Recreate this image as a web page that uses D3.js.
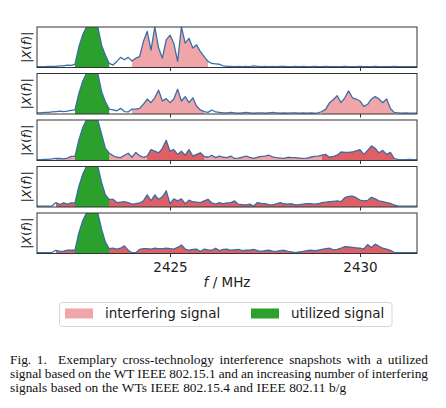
<!DOCTYPE html>
<html>
<head>
<meta charset="utf-8">
<script src="https://cdn.jsdelivr.net/npm/d3@7"></script>
<style>
body{margin:0;background:#fff;}
svg{display:block;}
</style>
</head>
<body>
<svg id="svg" width="446" height="408"></svg>
<script>
// spectrum samples, 0.1 MHz apart starting at 2421.5 MHz, |X(f)| in % of panel height
var fStart = 2421.5, fStep = 0.1;
var xTicks = [2425, 2430];
var legendNames = ['interfering signal', 'utilized signal'];

var snap1 = [2,2,2,3,3,3,4,4,6,5,
    8,50,80,100,125,130,100,55,30,10,
    6,15,25,19,25,16,23,27,64,89,
    43,100,48,23,68,80,60,15,100,60,
    72,48,56,39,27,15,10,9,8,4,
    3,3,2,3,2,3,2,4,3,2,
    3,2,3,2,3,3,2,2,3,2,
    3,2,2,3,2,2,3,2,2,2,
    2,3,2,2,2,3,2,2,2,3,
    2,2,2,2,3,2,2,2,2,2,
    2];
var snap2 = [3,3,4,4,5,6,7,6,7,9,
    10,50,80,100,125,130,100,55,30,12,
    10,8,14,6,5,12,12,14,24,37,
    28,40,59,32,38,28,37,61,32,43,
    28,40,19,10,6,4,10,5,4,3,
    3,4,3,2,3,4,3,2,3,3,
    2,3,4,3,2,3,2,3,3,2,
    3,2,3,2,3,6,12,28,36,45,
    28,40,57,40,37,32,19,24,37,43,
    37,28,37,14,4,3,2,3,2,2,
    2];
var snap3 = [2,2,3,3,4,5,5,4,6,10,
    10,50,80,100,125,130,100,65,30,18,
    12,8,7,13,18,8,20,12,8,11,
    27,23,19,30,50,23,27,15,23,13,
    27,11,15,19,10,8,13,7,11,8,
    7,11,5,6,8,11,8,5,8,10,
    11,13,9,7,6,5,8,7,7,6,
    5,6,8,10,11,13,15,8,10,13,
    21,20,20,21,24,27,15,25,36,30,
    19,25,15,20,5,2,2,2,3,2,
    2];
var snap4 = [2,2,2,2,3,11,6,10,7,10,
    10,50,80,100,125,130,100,60,30,19,
    19,11,12,13,11,7,8,10,15,30,
    15,30,19,25,40,8,20,15,20,8,
    17,13,12,11,15,19,10,7,11,8,
    10,11,15,7,6,5,7,2,11,9,
    8,6,5,8,11,8,7,8,5,6,
    7,8,8,7,8,11,12,13,14,15,
    13,23,26,27,23,17,15,16,24,20,
    15,13,11,9,5,2,2,2,2,2,
    2];
var snap5 = [2,2,2,2,3,8,5,6,8,8,
    8,50,80,100,125,130,100,60,28,12,
    13,11,13,19,8,2,2,10,12,12,
    11,13,12,12,13,12,11,15,21,11,
    8,10,11,5,11,9,8,13,7,10,
    11,8,9,10,7,8,8,10,7,5,
    7,8,6,5,7,8,5,4,2,4,
    5,7,8,7,8,10,12,13,9,10,
    13,17,16,15,14,13,11,22,15,23,
    18,13,11,8,3,2,2,2,2,2,
    2];
var snaps = [snap1, snap2, snap3, snap4, snap5];

// frequency bands (MHz) of the utilized signal and of the interferers per snapshot
var utilBand = [2422.5, 2423.4];
var interfBands = [
    [[2424.0, 2426.0]],
    [[2424.0, 2425.9], [2429.0, 2430.9]],
    [[2422.0, 2431.0]],
    [[2422.0, 2431.0]],
    [[2422.0, 2431.0]]
];
var overlapBands = [
    [],
    [],
    [[2424.4, 2425.9], [2429.0, 2430.9]],
    [[2422.0, 2431.0]],
    [[2422.0, 2431.0]]
];

var captionLines = [
    'Fig. 1.  Exemplary cross-technology interference snapshots with a utilized',
    'signal based on the WT IEEE 802.15.1 and an increasing number of interfering',
    'signals based on the WTs IEEE 802.15.4 and IEEE 802.11 b/g'
];

var cPink = '#f0a6a8', cDark = '#df5f65', cGreen = '#2ca02c', cLine = '#3a6ea5';
var freq = d3.range(snap1.length).map(function(i){ return fStart + i*fStep; });
var x = d3.scaleLinear().domain([2421.5, 2431.5]).range([37, 417]);

function inBand(f, bands){
    return bands.some(function(b){ return f >= b[0]-1e-6 && f <= b[1]+1e-6; });
}

function genPanel(s, k){
    var top = 27 + k*46.5, h = 40.5;
    var y = d3.scaleLinear().domain([0, 100]).range([top+h, top]);
    var data = snaps[k];

    s.append('clipPath').attr('id', 'clip'+k)
        .append('rect').attr('x', x.range()[0]).attr('y', top)
        .attr('width', x.range()[1]-x.range()[0]).attr('height', h);
    var g = s.append('g').attr('clip-path', 'url(#clip'+k+')');

    function area(bands){
        return d3.area()
            .defined(function(d, i){ return inBand(freq[i], bands); })
            .x(function(d, i){ return x(freq[i]); })
            .y0(y(0))
            .y1(function(d){ return y(d); });
    }
    g.append('path').attr('d', area(interfBands[k])(data)).attr('fill', cPink);
    if(overlapBands[k].length)
        g.append('path').attr('d', area(overlapBands[k])(data)).attr('fill', cDark);
    g.append('path').attr('d', area([utilBand])(data)).attr('fill', cGreen);
    g.append('path')
        .attr('d', d3.line().x(function(d, i){ return x(freq[i]); }).y(function(d){ return y(d); })(data))
        .attr('fill', 'none')
        .attr('stroke', cLine)
        .attr('stroke-width', 1.3)
        .attr('stroke-linejoin', 'round');

    var ax = d3.axisBottom(x).tickValues(xTicks).tickSize(3.5).tickPadding(5)
        .tickFormat(k == snaps.length-1 ? d3.format('d') : '');
    var axg = s.append('g').attr('transform', 'translate(0,'+(top+h)+')').call(ax);
    axg.select('.domain').remove();
    axg.selectAll('line').attr('stroke', '#333');
    axg.selectAll('text').attr('font-size', 13.5).attr('font-family', 'DejaVu Sans').attr('fill', '#222');

    s.append('rect')
        .attr('x', x.range()[0]).attr('y', top)
        .attr('width', x.range()[1]-x.range()[0]).attr('height', h)
        .attr('fill', 'none').attr('stroke', '#333').attr('stroke-width', 1);

    var lab = s.append('text')
        .attr('transform', 'translate(31,'+(top+h/2)+') rotate(-90)')
        .attr('text-anchor', 'middle')
        .attr('font-family', 'DejaVu Sans')
        .attr('font-size', 12.5)
        .attr('fill', '#222');
    lab.append('tspan').text('|');
    lab.append('tspan').attr('font-style', 'italic').text('X');
    lab.append('tspan').text('(');
    lab.append('tspan').attr('font-style', 'italic').text('f');
    lab.append('tspan').text(')|');
}

function genLegend(s){
    s.append('text')
        .attr('x', 227).attr('y', 287)
        .attr('text-anchor', 'middle')
        .attr('font-family', 'DejaVu Sans').attr('font-size', 13.5).attr('fill', '#222')
        .html('<tspan font-style="italic">f</tspan> / MHz');

    s.append('rect')
        .attr('x', 59.5).attr('y', 302.5).attr('width', 332.5).attr('height', 24)
        .attr('rx', 3).attr('fill', '#fff').attr('stroke', '#d6d6d6');
    var cols = [cPink, cGreen], xs = [65, 251];
    for(var i=0;i<2;i++){
        s.append('rect')
            .attr('x', xs[i]).attr('y', 308.5).attr('width', 28).attr('height', 10)
            .attr('fill', cols[i]);
        s.append('text')
            .attr('x', xs[i]+40).attr('y', 318)
            .attr('font-family', 'DejaVu Sans').attr('font-size', 13.5).attr('fill', '#222')
            .text(legendNames[i]);
    }
}

function genCaption(s){
    var x0 = 10, x1 = 428;
    captionLines.forEach(function(line, li){
        var yb = 364 + li*13.8;
        var words = line.split(' ');
        var nodes = words.map(function(w){
            return s.append('text').attr('y', yb)
                .attr('font-family', 'Liberation Serif').attr('font-size', 13.4)
                .attr('fill', '#111').text(w);
        });
        var widths = nodes.map(function(n){ return n.node().getComputedTextLength(); });
        var sum = d3.sum(widths);
        var gap = 3.6, sx = 1;
        if(li < captionLines.length-1){
            gap = Math.max(3, (x1-x0-sum)/(words.length-1));
            sx = Math.min(1, (x1-x0-gap*(words.length-1))/sum);
        }
        var cx = x0;
        nodes.forEach(function(n, i){
            n.attr('x', cx).attr('textLength', widths[i]*sx).attr('lengthAdjust', 'spacingAndGlyphs');
            cx += widths[i]*sx + gap;
        });
    });
}

var s = d3.select('#svg');
for(var k=0;k<snaps.length;k++) genPanel(s, k);
genLegend(s);
genCaption(s);
</script>
</body>
</html>
